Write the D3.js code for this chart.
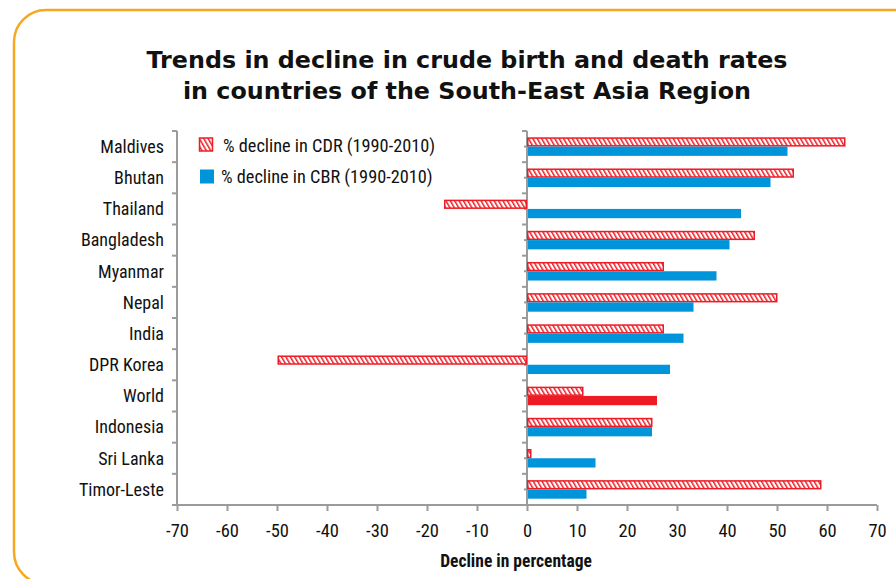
<html>
<head>
  <title>Trends in decline in crude birth and death rates</title>
  <script src="https://cdn.jsdelivr.net/npm/d3@7"></script>
  <style>
  body {
    margin: 0;
    background: #fff;
  }
  svg {
    display: block;
  }
  .cond {
    font-family: "Liberation Sans Narrow", "Roboto Condensed", "DejaVu Sans Condensed", sans-serif;
  }
  </style>
</head>
<body>
<svg id="chart"></svg>
</body>

<script>
const WIDTH = 896
const HEIGHT = 579
const GRAY = "#9b9b9b"
const RED = "#ed1c24"
const BLUE = "#0095da"

// data (% decline 1990-2010)
const countries = ["Maldives", "Bhutan", "Thailand", "Bangladesh", "Myanmar", "Nepal",
  "India", "DPR Korea", "World", "Indonesia", "Sri Lanka", "Timor-Leste"]
const cdrDecline = [63.7, 53.4, -16.6, 45.6, 27.4, 50.1, 27.4, -49.9, 11.3, 25.1, 0.9, 58.9]
const cbrDecline = [52.1, 48.7, 42.8, 40.5, 37.9, 33.3, 31.3, 28.6, 26.0, 25.0, 13.7, 11.9]
const xTickValues = [-70, -60, -50, -40, -30, -20, -10, 0, 10, 20, 30, 40, 50, 60, 70]
const seriesNames = ["% decline in CDR (1990-2010)", "% decline in CBR (1990-2010)"]
const titleLines = ["Trends in decline in crude birth and death rates",
  "in countries of the South-East Asia Region"]
const xTitle = "Decline in percentage"

const PLOT = { left: 177, right: 877, top: 131, bottom: 505 }

let svg = d3.select("#chart")
  .attr("width", WIDTH)
  .attr("height", HEIGHT)

// hatch pattern for CDR bars
let defs = svg.append("defs")
let pat = defs.append("pattern")
  .attr("id", "hatch")
  .attr("patternUnits", "userSpaceOnUse")
  .attr("width", 3.8)
  .attr("height", 10)
  .attr("patternTransform", "rotate(-30)")
pat.append("rect").attr("width", 3.8).attr("height", 10).attr("fill", "#fff")
pat.append("rect").attr("width", 1.5).attr("height", 10).attr("fill", RED)

// orange frame
svg.append("rect")
  .attr("x", 14).attr("y", 10)
  .attr("width", 1000).attr("height", 574)
  .attr("rx", 32).attr("ry", 32)
  .attr("fill", "none")
  .attr("stroke", "#f6a821")
  .attr("stroke-width", 2.5)

// title
svg.append("g").selectAll("text")
  .data(titleLines)
  .enter()
  .append("text")
  .attr("x", 467)
  .attr("y", (d, i) => 68 + i * 30.5)
  .attr("text-anchor", "middle")
  .attr("font-family", "DejaVu Sans, Verdana, sans-serif")
  .attr("font-weight", "bold")
  .attr("font-size", 23.8)
  .attr("fill", "#111")
  .text(d => d)

let x = d3.scaleLinear()
  .domain([-70, 70])
  .range([PLOT.left, PLOT.right])

let y = d3.scaleBand()
  .domain(countries)
  .range([PLOT.top, PLOT.bottom])

let ySub = d3.scaleBand()
  .domain(["cdr", "cbr"])
  .range([0, y.bandwidth()])
  .paddingOuter(0.68)

// x axis
let xAxis = d3.axisBottom(x)
  .tickValues(xTickValues)
  .tickFormat(v => v)
  .tickSize(6)
  .tickSizeOuter(0)

let xAxisGroup = svg.append("g")
  .attr("transform", `translate(0,${PLOT.bottom})`)
  .call(xAxis)
xAxisGroup.select(".domain")
  .attr("stroke", GRAY).attr("stroke-width", 2)
  .attr("d", `M${PLOT.left - 5},0H${PLOT.right}`)
xAxisGroup.selectAll(".tick line").attr("stroke", GRAY).attr("stroke-width", 2)
xAxisGroup.selectAll(".tick text")
  .attr("class", "cond")
  .attr("font-size", 18.5)
  .attr("fill", "#111")
  .attr("dy", "1.25em")

svg.append("text")
  .attr("class", "cond")
  .attr("x", 516)
  .attr("y", 567)
  .attr("text-anchor", "middle")
  .attr("font-weight", "bold")
  .attr("font-size", 17.5)
  .attr("fill", "#111")
  .text(xTitle)

// left category axis at -70 (labels + boundary ticks)
let boundaries = countries.map(c => y(c))
let leftAxis = svg.append("g")
leftAxis.append("line")
  .attr("x1", PLOT.left).attr("x2", PLOT.left)
  .attr("y1", PLOT.top).attr("y2", PLOT.bottom)
  .attr("stroke", GRAY).attr("stroke-width", 2)
leftAxis.selectAll(".bt")
  .data(boundaries)
  .enter()
  .append("line")
  .attr("x1", PLOT.left - 5).attr("x2", PLOT.left)
  .attr("y1", d => d).attr("y2", d => d)
  .attr("stroke", GRAY).attr("stroke-width", 2)
leftAxis.selectAll("text")
  .data(countries)
  .enter()
  .append("text")
  .attr("class", "cond")
  .attr("x", 164)
  .attr("y", d => y(d) + y.bandwidth() / 2)
  .attr("dy", "0.35em")
  .attr("text-anchor", "end")
  .attr("font-size", 18)
  .attr("fill", "#111")
  .text(d => d)

// zero axis
let zero = svg.append("g")
zero.append("line")
  .attr("x1", x(0)).attr("x2", x(0))
  .attr("y1", PLOT.top).attr("y2", PLOT.bottom)
  .attr("stroke", GRAY).attr("stroke-width", 2)
zero.selectAll(".bt")
  .data(boundaries)
  .enter()
  .append("line")
  .attr("x1", x(0) - 5).attr("x2", x(0))
  .attr("y1", d => d).attr("y2", d => d)
  .attr("stroke", GRAY).attr("stroke-width", 2)
zero.selectAll(".mt")
  .data(countries)
  .enter()
  .append("line")
  .attr("x1", x(0) - 3).attr("x2", x(0))
  .attr("y1", d => y(d) + y.bandwidth() / 2).attr("y2", d => y(d) + y.bandwidth() / 2)
  .attr("stroke", GRAY).attr("stroke-width", 2)

// bars
let bars = svg.append("g")
bars.selectAll(".cdr")
  .data(countries)
  .enter()
  .append("rect")
  .attr("x", (d, i) => x(Math.min(0, cdrDecline[i])) + 0.75)
  .attr("y", d => y(d) + ySub("cdr") + 0.75)
  .attr("width", (d, i) => Math.max(0.5, Math.abs(x(cdrDecline[i]) - x(0)) - 1.5))
  .attr("height", ySub.bandwidth() - 1.5)
  .attr("fill", "url(#hatch)")
  .attr("stroke", RED)
  .attr("stroke-width", 1.5)

bars.selectAll(".cbr")
  .data(countries)
  .enter()
  .append("rect")
  .attr("x", (d, i) => x(Math.min(0, cbrDecline[i])) + 1)
  .attr("y", d => y(d) + ySub("cbr"))
  .attr("width", (d, i) => Math.abs(x(cbrDecline[i]) - x(0)) - 1)
  .attr("height", ySub.bandwidth())
  .attr("fill", d => d == "World" ? RED : BLUE)

// legend
let legend = svg.append("g")
legend.append("rect")
  .attr("x", 199.5).attr("y", 138)
  .attr("width", 13).attr("height", 13)
  .attr("fill", "url(#hatch)")
  .attr("stroke", RED).attr("stroke-width", 1.5)
legend.append("rect")
  .attr("x", 200).attr("y", 169.5)
  .attr("width", 14).attr("height", 14)
  .attr("fill", BLUE)
legend.selectAll("text")
  .data(seriesNames)
  .enter()
  .append("text")
  .attr("class", "cond")
  .attr("x", (d, i) => i == 0 ? 223 : 221)
  .attr("y", (d, i) => i == 0 ? 151.5 : 183)
  .attr("font-size", 18.3)
  .attr("fill", "#111")
  .text(d => d)
</script>
</html>
